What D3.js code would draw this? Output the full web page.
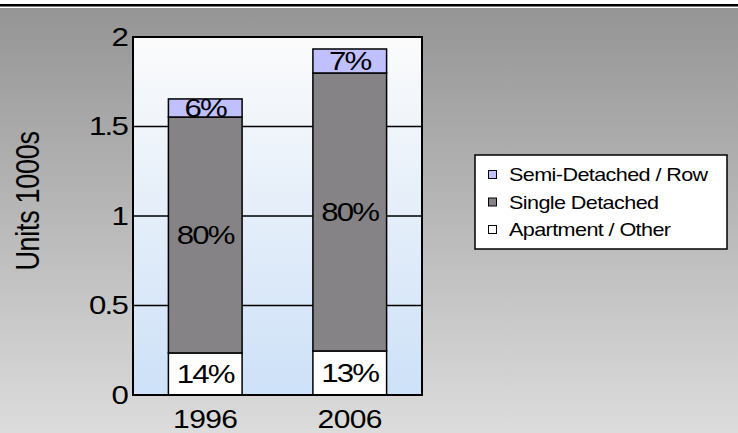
<!DOCTYPE html>
<html>
<head>
<meta charset="utf-8">
<script src="https://cdn.jsdelivr.net/npm/d3@7"></script>
<style>
  body { margin: 0; background: #fff; }
  svg { display: block; font-family: "Liberation Sans", Arial, sans-serif; }
</style>
</head>
<body>
<div id="chart"></div>
<script>
var years = ["1996", "2006"];
var apartment = [0.235, 0.246];
var single = [1.318, 1.553];
var semi = [0.101, 0.134];
var pctLabels = {
  apartment: ["14%", "13%"],
  single: ["80%", "80%"],
  semi: ["6%", "7%"]
};
var yTicks = [0, 0.5, 1, 1.5, 2];
var legendNames = ["Semi-Detached / Row", "Single Detached", "Apartment / Other"];

var svgWidth = 738, svgHeight = 433;
var plot = { left: 133, top: 37, right: 422, bottom: 395 };
// the original picture is a bit wider than tall, text is stretched sideways
var sx = 1.2;

var svg = d3.select("#chart").append("svg")
  .attr("width", svgWidth)
  .attr("height", svgHeight);

var defs = svg.append("defs");
var bg = defs.append("linearGradient").attr("id", "bg").attr("x1", 0).attr("y1", 0).attr("x2", 0).attr("y2", 1);
bg.append("stop").attr("offset", "0%").attr("stop-color", "#959595");
bg.append("stop").attr("offset", "100%").attr("stop-color", "#dcdcdc");
var pg = defs.append("linearGradient").attr("id", "pg").attr("x1", 0).attr("y1", 0).attr("x2", 0).attr("y2", 1);
pg.append("stop").attr("offset", "0%").attr("stop-color", "#fbfbfb");
pg.append("stop").attr("offset", "100%").attr("stop-color", "#cde1f8");

svg.append("rect").attr("x", 0).attr("y", 4).attr("width", svgWidth).attr("height", 2.5).attr("fill", "#000");
svg.append("rect").attr("x", 0).attr("y", 8).attr("width", svgWidth).attr("height", svgHeight - 8).attr("fill", "url(#bg)");

var x = d3.scaleBand().domain(years).range([plot.left, plot.right]).paddingInner(0.49).paddingOuter(0.245);
var y = d3.scaleLinear().domain([0, 2]).range([plot.bottom, plot.top]);

svg.append("rect")
  .attr("x", plot.left).attr("y", plot.top)
  .attr("width", plot.right - plot.left).attr("height", plot.bottom - plot.top)
  .attr("fill", "url(#pg)");

// gridlines
svg.append("g").selectAll("line").data(yTicks.slice(1, 4)).enter().append("line")
  .attr("x1", plot.left).attr("x2", plot.right)
  .attr("y1", d => y(d)).attr("y2", d => y(d))
  .attr("stroke", "#000").attr("stroke-width", 1.5);

// stacked bars
var rows = years.map(function (yr, i) {
  return { year: yr, apartment: apartment[i], single: single[i], semi: semi[i] };
});
var keys = ["apartment", "single", "semi"];
var colors = { apartment: "#ffffff", single: "#858385", semi: "#c0c0ff" };
var stack = d3.stack().keys(keys)(rows);

var layer = svg.append("g").selectAll("g").data(stack).enter().append("g");
layer.selectAll("rect").data(d => d.map(p => ({ key: d.key, p: p }))).enter().append("rect")
  .attr("x", d => x(d.p.data.year))
  .attr("width", x.bandwidth())
  .attr("y", d => y(d.p[1]))
  .attr("height", d => y(d.p[0]) - y(d.p[1]))
  .attr("fill", d => colors[d.key])
  .attr("stroke", "#000").attr("stroke-width", 1.5);

layer.selectAll("text").data(d => d.map((p, i) => ({ key: d.key, p: p, i: i }))).enter().append("text")
  .attr("transform", d => `translate(${x(d.p.data.year) + x.bandwidth() / 2},${(y(d.p[0]) + y(d.p[1])) / 2 + 9.5}) scale(${sx},1)`)
  .attr("text-anchor", "middle")
  .attr("font-size", 26)
  .attr("letter-spacing", -1.5)
  .text(d => pctLabels[d.key][d.i]);

// plot border
svg.append("rect")
  .attr("x", plot.left).attr("y", plot.top)
  .attr("width", plot.right - plot.left).attr("height", plot.bottom - plot.top)
  .attr("fill", "none").attr("stroke", "#000").attr("stroke-width", 2);

// axes
var yAxis = svg.append("g").attr("transform", `translate(${plot.left},0)`)
  .call(d3.axisLeft(y).tickValues(yTicks).tickSize(0).tickPadding(5).tickFormat(d3.format("")));
yAxis.select(".domain").remove();
yAxis.selectAll("text").attr("font-size", 26).attr("letter-spacing", -1.5).attr("fill", "#000")
  .attr("font-family", "Liberation Sans, Arial, sans-serif")
  .attr("transform", `scale(${sx},1)`);

var xAxis = svg.append("g").attr("transform", `translate(0,${plot.bottom})`)
  .call(d3.axisBottom(x).tickSize(0).tickPadding(15));
xAxis.select(".domain").remove();
xAxis.selectAll("text").attr("font-size", 25).attr("letter-spacing", -0.5).attr("fill", "#000")
  .attr("font-family", "Liberation Sans, Arial, sans-serif")
  .attr("transform", `scale(${sx},1)`);

svg.append("text")
  .attr("transform", `translate(39,201) rotate(-90) scale(1,${sx})`)
  .attr("text-anchor", "middle")
  .attr("font-size", 27)
  .attr("letter-spacing", -0.3)
  .text("Units 1000s");

// legend
var legend = svg.append("g");
legend.append("rect").attr("x", 475).attr("y", 155).attr("width", 252).attr("height", 94)
  .attr("fill", "#fff").attr("stroke", "#000").attr("stroke-width", 1.5);
var legendKeys = ["semi", "single", "apartment"];
var items = legend.selectAll("g.item").data(legendNames).enter().append("g")
  .attr("transform", (d, i) => `translate(488,${181 + i * 27.5})`);
items.append("rect").attr("x", 0.5).attr("y", -10.5).attr("width", 8).attr("height", 8)
  .attr("fill", (d, i) => colors[legendKeys[i]]).attr("stroke", "#000").attr("stroke-width", 1);
items.append("text").attr("transform", `translate(21,0) scale(${sx},1)`)
  .attr("font-size", 18).attr("letter-spacing", -0.5)
  .text(d => d);
</script>
</body>
</html>
